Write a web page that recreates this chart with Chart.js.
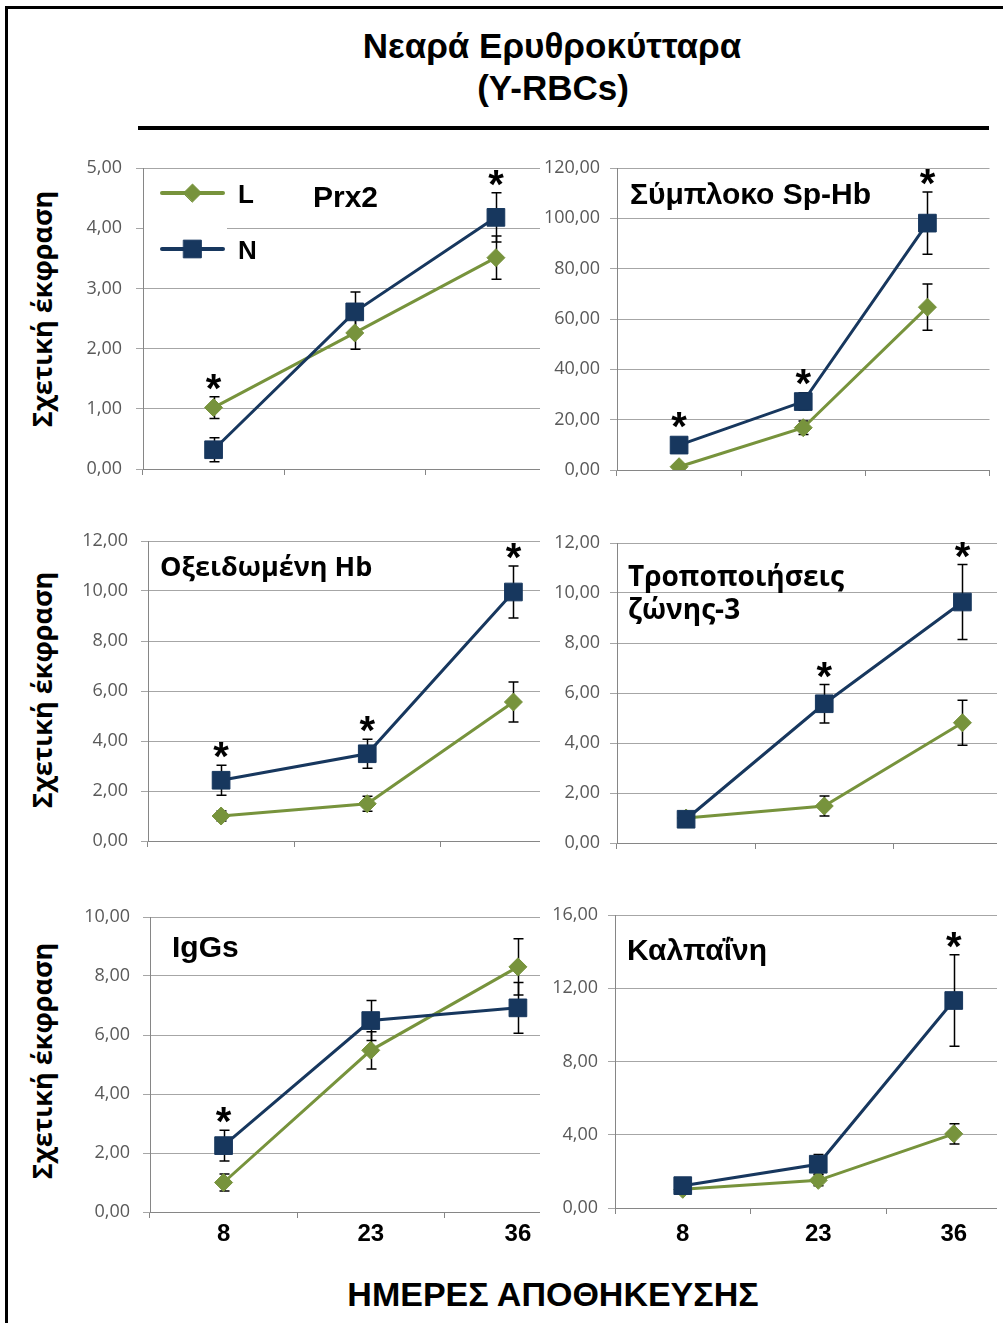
<!DOCTYPE html>
<html lang="el">
<head>
<meta charset="utf-8">
<title>Νεαρά Ερυθροκύτταρα (Y-RBCs)</title>
<script src="https://cdn.jsdelivr.net/npm/chart.js@4.4.1/dist/chart.umd.min.js"></script>
<style>
html,body{margin:0;padding:0;background:#fff;}
body{width:1003px;height:1323px;position:relative;overflow:hidden;}
canvas{position:absolute;}
.t{position:absolute;white-space:nowrap;line-height:1;color:#000;font-weight:bold;z-index:5;}
.ar{font-family:'Liberation Sans',Arial,sans-serif;}
.ca{font-family:'Open Sans','Noto Sans',sans-serif;}
.c{transform:translate(-50%,-50%);}
.l{transform:translateY(-50%);}
.rot{transform:translate(-50%,-50%) rotate(-90deg);}
.line{position:absolute;background:#000;z-index:6;}
.mask{position:absolute;background:#fff;z-index:4;}
</style>
</head>
<body>
<div class="line" style="left:5px;top:6px;width:998px;height:3px"></div>
<div class="line" style="left:5px;top:6px;width:3px;height:1317px"></div>
<div class="line" style="left:138px;top:126px;width:851px;height:4px"></div>
<div class="mask" style="left:997px;top:140px;width:6px;height:1183px"></div>

<div class="t ar c" style="left:552px;top:45px;font-size:35px">Νεαρά Ερυθροκύτταρα</div>
<div class="t ar c" style="left:553px;top:87px;font-size:35px">(Y-RBCs)</div>

<div class="t ca rot" style="left:41px;top:309px;font-size:27px">Σχετική έκφραση</div>
<div class="t ca rot" style="left:41px;top:690px;font-size:27px">Σχετική έκφραση</div>
<div class="t ca rot" style="left:41px;top:1061px;font-size:27px">Σχετική έκφραση</div>

<div class="t ar l" style="left:313px;top:197px;font-size:30px">Prx2</div>
<div class="t ar l" style="left:630px;top:194px;font-size:30px">Σύμπλοκο Sp-Hb</div>
<div class="t ca l" style="left:160px;top:565px;font-size:27px">Οξειδωμένη Hb</div>
<div class="t ca l" style="left:628px;top:575px;font-size:28px">Τροποποιήσεις</div>
<div class="t ca l" style="left:628px;top:608px;font-size:28px">ζώνης-3</div>
<div class="t ar l" style="left:172px;top:947px;font-size:30px">IgGs</div>
<div class="t ar l" style="left:627px;top:950px;font-size:30px">Καλπαΐνη</div>

<div class="t ar c" style="left:553px;top:1294px;font-size:34px">ΗΜΕΡΕΣ ΑΠΟΘΗΚΕΥΣΗΣ</div>

<script>
// ---------- DATA ----------
const days = ['8', '23', '36'];

const prx2L = [1.02, 2.26, 3.51];
const prx2LErr = [0.18, 0.27, 0.36];
const prx2N = [0.32, 2.61, 4.18];
const prx2NErr = [0.20, 0.33, 0.41];
const prx2Sig = [1, 0, 1];

const sphbL = [1.3, 16.8, 64.7];
const sphbLErr = [0.8, 2.7, 9.2];
const sphbN = [9.9, 27.2, 98.1];
const sphbNErr = [0.8, 3.5, 12.4];
const sphbSig = [1, 1, 1];

const oxL = [1.0, 1.49, 5.56];
const oxLErr = [0.2, 0.3, 0.8];
const oxN = [2.43, 3.49, 9.96];
const oxNErr = [0.6, 0.58, 1.04];
const oxSig = [1, 1, 1];

const b3L = [1.0, 1.48, 4.81];
const b3LErr = [0.1, 0.4, 0.9];
const b3N = [0.95, 5.57, 9.64];
const b3NErr = [0.25, 0.77, 1.5];
const b3Sig = [0, 1, 1];

const igL = [1.0, 5.48, 8.31];
const igLErr = [0.29, 0.63, 0.95];
const igN = [2.25, 6.49, 6.92];
const igNErr = [0.52, 0.68, 0.86];
const igSig = [1, 0, 0];

const calL = [1.02, 1.51, 4.05];
const calLErr = [0.1, 0.3, 0.55];
const calN = [1.22, 2.39, 11.33];
const calNErr = [0.2, 0.53, 2.5];
const calSig = [0, 0, 1];

const yMaxes = [5, 120, 12, 12, 10, 16];
const ySteps = [1, 20, 2, 2, 2, 4];

// ---------- STYLE / LAYOUT ----------
const GREEN = '#77933C', BLUE = '#17375E';
const panels = [
  {L: prx2L, Le: prx2LErr, N: prx2N, Ne: prx2NErr, sig: prx2Sig},
  {L: sphbL, Le: sphbLErr, N: sphbN, Ne: sphbNErr, sig: sphbSig},
  {L: oxL, Le: oxLErr, N: oxN, Ne: oxNErr, sig: oxSig},
  {L: b3L, Le: b3LErr, N: b3N, Ne: b3NErr, sig: b3Sig},
  {L: igL, Le: igLErr, N: igN, Ne: igNErr, sig: igSig},
  {L: calL, Le: calLErr, N: calN, Ne: calNErr, sig: calSig}
];
// canvas [x, y, w, h], plot area [left, top, right, bottom] in page px
const layouts = [
  {cv: [60, 140, 520, 360], area: [143, 168, 567, 469], xl: false, legend: true, lp: 14},
  {cv: [540, 140, 463, 360], area: [617, 168, 996, 470], xl: false, lp: 10},
  {cv: [60, 510, 540, 360], area: [148, 541, 589, 841], xl: false, lp: 13},
  {cv: [540, 510, 505, 360], area: [617, 543, 1037, 843], xl: false, lp: 10},
  {cv: [60, 885, 545, 375], area: [150, 917, 594, 1212], xl: true, pad: 2, lp: 13},
  {cv: [540, 885, 495, 375], area: [615, 915, 1024, 1208], xl: true, pad: 6, lp: 10}
];

const whiteBg = {
  id: 'whiteBg',
  beforeDraw(chart) {
    const c = chart.ctx;
    c.save(); c.fillStyle = '#fff'; c.fillRect(0, 0, chart.width, chart.height); c.restore();
  }
};

const errorBars = {
  id: 'errorBars',
  beforeDatasetsDraw(chart) {
    const c = chart.ctx, y = chart.scales.y;
    c.save(); c.strokeStyle = '#000'; c.lineWidth = 1.5;
    chart.data.datasets.forEach((ds, di) => {
      chart.getDatasetMeta(di).data.forEach((pt, i) => {
        const v = ds.data[i], e = ds.err[i];
        const yt = y.getPixelForValue(v + e), yb = y.getPixelForValue(v - e);
        const x = Math.round(pt.x) + 0.5;
        c.beginPath();
        c.moveTo(x, yt); c.lineTo(x, yb);
        c.moveTo(x - 5, yt); c.lineTo(x + 5, yt);
        c.moveTo(x - 5, yb); c.lineTo(x + 5, yb);
        c.stroke();
      });
    });
    c.restore();
  }
};

const stars = {
  id: 'stars',
  afterDatasetsDraw(chart) {
    const sig = chart.data.datasets[0].sig, y = chart.scales.y, c = chart.ctx;
    const fs = 40;
    c.save(); c.fillStyle = '#000'; c.font = 'bold ' + fs + 'px "Liberation Sans"';
    c.textAlign = 'center'; c.textBaseline = 'alphabetic';
    sig.forEach((s, i) => {
      if (!s) return;
      let top = Infinity;
      chart.data.datasets.forEach(ds => {
        top = Math.min(top, y.getPixelForValue(ds.data[i] + ds.err[i]), y.getPixelForValue(ds.data[i]) - 10);
      });
      const x = chart.getDatasetMeta(0).data[i].x;
      c.fillText('*', x, top - 17 + 0.55 * fs);
    });
    c.restore();
  }
};

function drawMarker(c, style, r, x, y) {
  c.beginPath();
  if (style === 'rect') {
    const s = Math.SQRT1_2 * r;
    c.rect(x - s, y - s, 2 * s, 2 * s);
  } else {
    c.moveTo(x - r, y); c.lineTo(x, y - r); c.lineTo(x + r, y); c.lineTo(x, y + r); c.closePath();
  }
  c.fill(); c.stroke();
}

const lineLegend = {
  id: 'lineLegend',
  beforeDatasetsDraw(chart, args, o) {
    if (!o || !o.show) return;
    const c = chart.ctx, a = chart.chartArea;
    c.save();
    c.fillStyle = '#fff';
    c.fillRect(a.left + 1, o.ys[0] - 18, o.x1 + 3 - a.left, o.ys[1] - o.ys[0] + 36);
    const items = [chart.data.datasets[1], chart.data.datasets[0]];
    items.forEach((ds, k) => {
      const yy = o.ys[k];
      c.strokeStyle = ds.borderColor; c.lineWidth = 4; c.lineCap = 'round';
      c.beginPath(); c.moveTo(o.x0, yy); c.lineTo(o.x1, yy); c.stroke();
      c.fillStyle = ds.pointBackgroundColor; c.strokeStyle = ds.pointBorderColor; c.lineWidth = 1;
      drawMarker(c, ds.pointStyle, ds.pointRadius, (o.x0 + o.x1) / 2, yy);
      c.fillStyle = '#000'; c.font = 'bold 26px "Liberation Sans"'; c.textBaseline = 'middle';
      c.fillText(ds.label, o.tx, yy + 3);
    });
    c.restore();
  }
};

const fmt = v => v.toFixed(2).replace('.', ',');

panels.forEach((p, idx) => {
  const lo = layouts[idx];
  const [cx, cy, cw, ch] = lo.cv;
  const [al, at, ar, ab] = lo.area;
  const cv = document.createElement('canvas');
  cv.width = cw; cv.height = ch;
  cv.style.left = cx + 'px'; cv.style.top = cy + 'px';
  cv.style.width = cw + 'px'; cv.style.height = ch + 'px';
  cv.style.zIndex = (idx % 2 === 1) ? 2 : 1;
  document.body.appendChild(cv);

  new Chart(cv, {
    type: 'line',
    data: {
      labels: days,
      datasets: [
        {label: 'N', data: p.N, err: p.Ne, sig: p.sig, borderColor: BLUE, backgroundColor: BLUE,
         pointStyle: 'rect', pointRadius: 12.5, pointBackgroundColor: BLUE, pointBorderColor: BLUE,
         pointBorderWidth: 1, borderWidth: 3, tension: 0},
        {label: 'L', data: p.L, err: p.Le, borderColor: GREEN, backgroundColor: GREEN,
         pointStyle: 'rectRot', pointRadius: 9, pointBackgroundColor: GREEN, pointBorderColor: GREEN,
         pointBorderWidth: 1, borderWidth: 3, tension: 0}
      ]
    },
    options: {
      responsive: false, animation: false, devicePixelRatio: 1, events: [],
      layout: {padding: {left: 0, top: at - cy, right: cx + cw - ar, bottom: 0}},
      plugins: {
        legend: {display: false}, tooltip: {enabled: false},
        lineLegend: lo.legend ? {show: true, x0: 162 - cx, x1: 223 - cx, tx: 238 - cx, ys: [193 - cy, 249 - cy]} : {show: false}
      },
      scales: {
        x: {
          type: 'category', offset: true,
          grid: {offset: true, drawOnChartArea: false, drawTicks: true, tickLength: 6, color: '#868686'},
          border: {color: '#868686'},
          ticks: {display: lo.xl, color: '#000', padding: lo.pad || 0, font: {family: 'Liberation Sans', size: 24, weight: 'bold'}},
          afterFit: s => { s.height = cy + ch - ab; }
        },
        y: {
          min: 0, max: yMaxes[idx],
          ticks: {stepSize: ySteps[idx], callback: fmt, color: '#595959', padding: lo.lp,
                  font: {family: 'Open Sans', size: 18}},
          grid: {color: '#a6a6a6', tickLength: 7},
          border: {color: '#868686'},
          afterFit: s => { s.width = al - cx; }
        }
      }
    },
    plugins: [whiteBg, lineLegend, errorBars, stars]
  });
});
</script>
</body>
</html>
